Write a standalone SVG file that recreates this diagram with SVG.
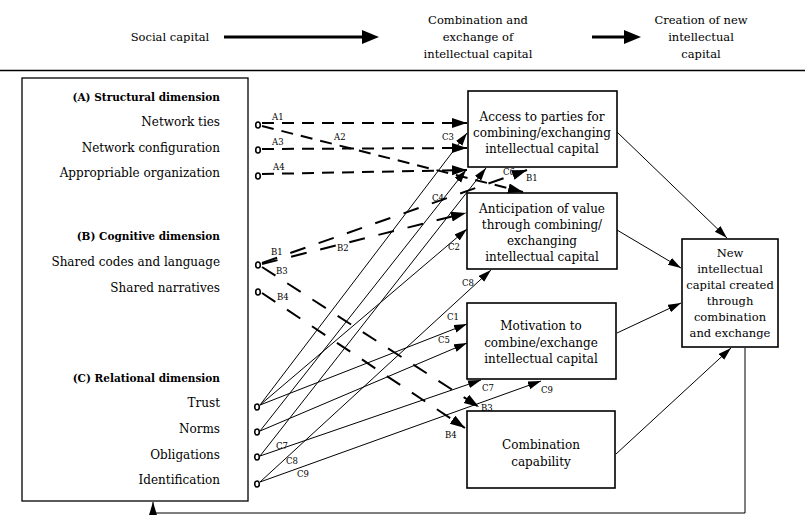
<svg xmlns="http://www.w3.org/2000/svg" width="805" height="521" viewBox="0 0 805 521">
<style>
text{font-family:"DejaVu Serif","Liberation Serif",serif;fill:#000}
.hd{font-size:11.5px;text-anchor:middle}
.lt{font-size:12px;text-anchor:end}
.lh{font-size:10.5px;font-weight:bold;text-anchor:end}
.bt{font-size:12px;text-anchor:middle}
.nt{font-size:11.5px;text-anchor:middle}
.lb{font-size:8.5px}
.box{fill:#fff;stroke:#000;stroke-width:1.6}
.dA{fill:none;stroke:#000;stroke-width:2;stroke-dasharray:12 8}
.dB{fill:none;stroke:#000;stroke-width:2;stroke-dasharray:16 14}
.sc{fill:none;stroke:#000;stroke-width:1}
.out{fill:none;stroke:#000;stroke-width:1}
.dot{fill:#fff;stroke:#000;stroke-width:1.6}
</style>
<defs>
<marker id="ah" markerUnits="userSpaceOnUse" markerWidth="16" markerHeight="12" refX="15" refY="5" orient="auto">
<path d="M0,0 L15,5 L0,10 z" fill="#000"/>
</marker>
<marker id="as" markerUnits="userSpaceOnUse" markerWidth="14" markerHeight="10" refX="13" refY="4" orient="auto">
<path d="M0,0 L13,4 L0,8 z" fill="#000"/>
</marker>
</defs>
<rect width="805" height="521" fill="#fff"/>

<g id="header">
<text class="hd" x="170" y="41">Social capital</text>
<line x1="224" y1="37" x2="364" y2="37" stroke="#000" stroke-width="3"/>
<polygon points="362,30 379,37 362,44" fill="#000"/>
<text class="hd" x="478" y="24">Combination and</text>
<text class="hd" x="478" y="41">exchange of</text>
<text class="hd" x="478" y="58">intellectual capital</text>
<line x1="592" y1="37" x2="626" y2="37" stroke="#000" stroke-width="3"/>
<polygon points="624,30 641,37 624,44" fill="#000"/>
<text class="hd" x="701" y="24">Creation of new</text>
<text class="hd" x="701" y="41">intellectual</text>
<text class="hd" x="701" y="58">capital</text>
<line x1="0" y1="70.5" x2="805" y2="70.5" stroke="#000" stroke-width="1.3"/>
</g>

<g id="social-capital">
<rect x="22" y="78" width="226" height="423" fill="#fff" stroke="#000" stroke-width="1.3"/>
<text class="lh" x="220" y="101">(A) Structural dimension</text>
<text class="lt" x="220" y="126">Network ties</text>
<text class="lt" x="220" y="152">Network configuration</text>
<text class="lt" x="220" y="177">Appropriable organization</text>
<text class="lh" x="220" y="240">(B) Cognitive dimension</text>
<text class="lt" x="220" y="266">Shared codes and language</text>
<text class="lt" x="220" y="292">Shared narratives</text>
<text class="lh" x="220" y="382">(C) Relational dimension</text>
<text class="lt" x="220" y="407">Trust</text>
<text class="lt" x="220" y="433">Norms</text>
<text class="lt" x="220" y="459">Obligations</text>
<text class="lt" x="220" y="484">Identification</text>
</g>

<g id="access">
<rect class="box" x="468" y="91" width="149" height="76"/>
<text class="bt" x="542" y="121">Access to parties for</text>
<text class="bt" x="542" y="137">combining/exchanging</text>
<text class="bt" x="542" y="153">intellectual capital</text>
</g>
<g id="anticipation">
<rect class="box" x="467" y="193" width="150" height="76"/>
<text class="bt" x="542" y="213">Anticipation of value</text>
<text class="bt" x="542" y="229">through combining/</text>
<text class="bt" x="542" y="245">exchanging</text>
<text class="bt" x="542" y="261">intellectual capital</text>
</g>
<g id="motivation">
<rect class="box" x="467" y="303" width="149" height="76"/>
<text class="bt" x="541" y="330">Motivation to</text>
<text class="bt" x="541" y="347">combine/exchange</text>
<text class="bt" x="541" y="363">intellectual capital</text>
</g>
<g id="capability">
<rect class="box" x="467" y="411" width="148" height="77"/>
<text class="bt" x="541" y="449">Combination</text>
<text class="bt" x="541" y="466">capability</text>
</g>
<g id="new-capital">
<rect class="box" x="682" y="239" width="96" height="108"/>
<text class="nt" x="730" y="257">New</text>
<text class="nt" x="730" y="273">intellectual</text>
<text class="nt" x="730" y="289">capital created</text>
<text class="nt" x="730" y="305">through</text>
<text class="nt" x="730" y="321">combination</text>
<text class="nt" x="730" y="337">and exchange</text>
</g>

<g id="connectors">
<line class="dA" x1="262" y1="123" x2="467" y2="123" marker-end="url(#ah)"/>
<line class="dA" x1="262" y1="126" x2="523" y2="192" marker-end="url(#ah)"/>
<line class="dA" x1="262" y1="149" x2="467" y2="148" marker-end="url(#ah)"/>
<line class="dA" x1="262" y1="174" x2="467" y2="170" marker-end="url(#ah)"/>
<line class="dB" x1="262" y1="263" x2="527" y2="170" marker-end="url(#ah)"/>
<line class="dB" x1="262" y1="264" x2="466" y2="213" marker-end="url(#ah)"/>
<line class="dB" x1="262" y1="267" x2="479" y2="407" marker-end="url(#ah)"/>
<line class="dB" x1="262" y1="293" x2="465" y2="428" marker-end="url(#ah)"/>
<line class="sc" x1="260" y1="405" x2="467" y2="324" marker-end="url(#as)"/>
<line class="sc" x1="260" y1="405" x2="467" y2="229" marker-end="url(#as)"/>
<line class="sc" x1="260" y1="405" x2="467" y2="133" marker-end="url(#as)"/>
<line class="sc" x1="260" y1="431" x2="466" y2="170" marker-end="url(#as)"/>
<line class="sc" x1="260" y1="431" x2="467" y2="343" marker-end="url(#as)"/>
<line class="sc" x1="260" y1="456" x2="486" y2="168" marker-end="url(#as)"/>
<line class="sc" x1="260" y1="456" x2="481" y2="380" marker-end="url(#as)"/>
<line class="sc" x1="260" y1="482" x2="491" y2="270" marker-end="url(#as)"/>
<line class="sc" x1="260" y1="482" x2="541" y2="381" marker-end="url(#as)"/>
<line class="out" x1="617" y1="132" x2="727" y2="238" marker-end="url(#as)"/>
<line class="out" x1="617" y1="230" x2="681" y2="268" marker-end="url(#as)"/>
<line class="out" x1="617" y1="333" x2="681" y2="303" marker-end="url(#as)"/>
<line class="out" x1="616" y1="454" x2="731" y2="348" marker-end="url(#as)"/>
<polyline class="out" points="745,348 745,513 153,513 153,502" marker-end="url(#as)"/>
<ellipse class="dot" cx="258" cy="125" rx="2.3" ry="3"/>
<ellipse class="dot" cx="258" cy="150" rx="2.3" ry="3"/>
<ellipse class="dot" cx="258" cy="176" rx="2.3" ry="3"/>
<ellipse class="dot" cx="258" cy="265" rx="2.3" ry="3"/>
<ellipse class="dot" cx="258" cy="292" rx="2.3" ry="3"/>
<ellipse class="dot" cx="257" cy="407" rx="2.3" ry="3"/>
<ellipse class="dot" cx="257" cy="432" rx="2.3" ry="3"/>
<ellipse class="dot" cx="257" cy="457" rx="2.3" ry="3"/>
<ellipse class="dot" cx="257" cy="484" rx="2.3" ry="3"/>
<text class="lb" x="272" y="120">A1</text>
<text class="lb" x="334" y="140">A2</text>
<text class="lb" x="272" y="145">A3</text>
<text class="lb" x="273" y="170">A4</text>
<text class="lb" x="271" y="255">B1</text>
<text class="lb" x="526" y="181">B1</text>
<text class="lb" x="337" y="251">B2</text>
<text class="lb" x="276" y="274">B3</text>
<text class="lb" x="481" y="411">B3</text>
<text class="lb" x="277" y="300">B4</text>
<text class="lb" x="445" y="438">B4</text>
<text class="lb" x="447" y="320">C1</text>
<text class="lb" x="448" y="250">C2</text>
<text class="lb" x="442" y="140">C3</text>
<text class="lb" x="432" y="201">C4</text>
<text class="lb" x="438" y="343">C5</text>
<text class="lb" x="503" y="175">C6</text>
<text class="lb" x="276" y="449">C7</text>
<text class="lb" x="482" y="391">C7</text>
<text class="lb" x="286" y="464">C8</text>
<text class="lb" x="462" y="286">C8</text>
<text class="lb" x="297" y="477">C9</text>
<text class="lb" x="541" y="393">C9</text>
</g>
</svg>
